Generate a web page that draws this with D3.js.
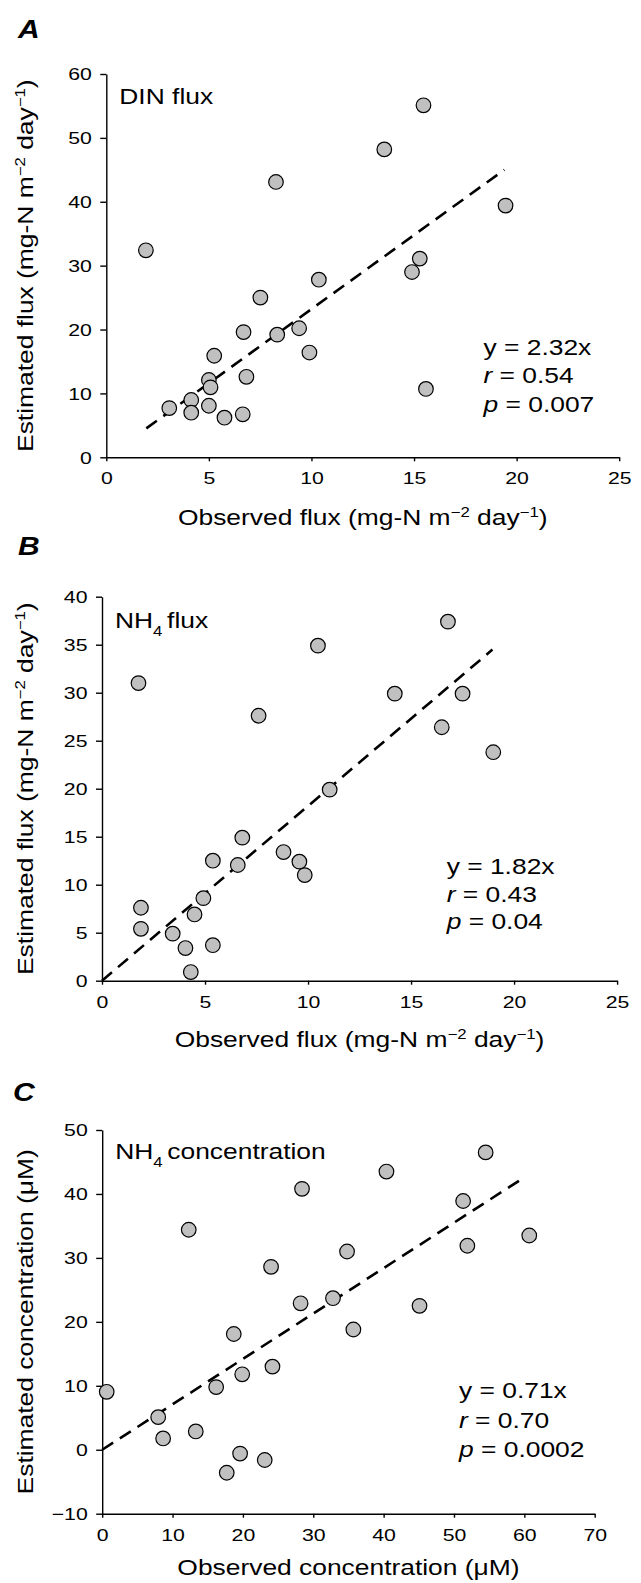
<!DOCTYPE html>
<html><head><meta charset="utf-8">
<script src="https://cdn.jsdelivr.net/npm/d3@7"></script>
<style>html,body{margin:0;padding:0;background:#fff;}svg{display:block;}</style>
</head><body>
<script>
// ---------- DATA ----------
const obsA = [15.46, 13.55, 8.27, 19.46, 1.93, 15.28, 14.9, 10.36, 7.51, 6.69, 8.33, 9.40, 9.90, 5.26, 6.83, 5.0, 5.08, 15.58, 4.14, 3.07, 5.0, 4.14, 5.76, 6.65];
const estA = [55.1, 48.2, 43.1, 39.4, 32.4, 31.1, 29.0, 27.8, 25.0, 19.6, 19.2, 20.2, 16.4, 15.9, 12.6, 12.1, 10.95, 10.7, 8.97, 7.7, 8.07, 6.98, 6.2, 6.73];
const obsB = [16.79, 10.48, 1.77, 14.21, 17.5, 7.6, 16.49, 18.99, 11.05, 6.81, 8.81, 5.38, 6.59, 9.58, 9.84, 4.92, 1.89, 4.49, 1.89, 3.43, 4.05, 5.38, 4.31];
const estB = [37.4, 34.9, 31.0, 29.9, 29.9, 27.6, 26.4, 23.8, 19.9, 14.9, 13.4, 12.5, 12.05, 12.4, 11.0, 8.6, 7.6, 6.9, 5.4, 4.9, 3.4, 3.7, 0.9];
const obsC = [54.5, 40.4, 28.4, 51.3, 12.3, 60.7, 51.9, 34.8, 24.0, 32.8, 28.2, 45.1, 35.7, 18.7, 24.2, 19.9, 16.2, 0.64, 7.96, 8.66, 13.3, 19.6, 23.1, 17.7];
const estC = [46.5, 43.5, 40.8, 38.9, 34.4, 33.5, 31.9, 31.0, 28.6, 23.7, 22.9, 22.5, 18.8, 18.1, 13.0, 11.8, 9.8, 9.06, 5.1, 1.77, 2.86, -0.6, -1.6, -3.6];

const slopes = [2.32, 1.82, 0.71];
const fitRanges = [[1.95, 19.4], [0, 18.95], [0, 60]];
const rValues = ["0.54", "0.43", "0.70"];
const pValues = ["0.007", "0.04", "0.0002"];
const panelLetters = ["A", "B", "C"];
const panelTitles = ["DIN flux", "NH4 flux", "NH4 concentration"];
const xTicksA = [0, 5, 10, 15, 20, 25], yTicksA = [0, 10, 20, 30, 40, 50, 60];
const xTicksB = [0, 5, 10, 15, 20, 25], yTicksB = [0, 5, 10, 15, 20, 25, 30, 35, 40];
const xTicksC = [0, 10, 20, 30, 40, 50, 60, 70], yTicksC = [-10, 0, 10, 20, 30, 40, 50];
const xLabels = ["flux", "flux", "conc"];

// ---------- LAYOUT ----------
const W = 641, H = 1583;
const FONT = "'Liberation Sans', Arial, Helvetica, sans-serif";
const SX = 1.2;   // horizontal glyph stretch seen in the reference
const layouts = [
  {x0: 106.3, x1: 619.2, yT: 74, yB: 457.3, letterX: 18, letterY: 38, titleY: 104, eqX: 483.5, eqY: 355, eqGap: 28.3, xLabY: 525, yLabX: 33},
  {x0: 102, x1: 617.1, yT: 596.7, yB: 980.7, letterX: 18, letterY: 555, titleY: 628.3, eqX: 446.7, eqY: 874, eqGap: 27.7, xLabY: 1047, yLabX: 33},
  {x0: 102.2, x1: 594.7, yT: 1130, yB: 1513.7, letterX: 13, letterY: 1101, titleY: 1159.3, eqX: 459, eqY: 1398.3, eqGap: 29.2, xLabY: 1575, yLabX: 33}
];

const panels = [
  {obs: obsA, est: estA, xd: [0, 25], yd: [0, 60], xt: xTicksA, yt: yTicksA},
  {obs: obsB, est: estB, xd: [0, 25], yd: [0, 40], xt: xTicksB, yt: yTicksB},
  {obs: obsC, est: estC, xd: [0, 70], yd: [-10, 50], xt: xTicksC, yt: yTicksC}
];

const svg = d3.select("body").append("svg").attr("width", W).attr("height", H)
  .style("font-family", FONT);

function stext(parent, x, y, opts, build) {
  const g = parent.append("g").attr("transform",
    `translate(${x},${y})` + (opts.rotate ? " rotate(-90)" : "") + ` scale(${opts.sx || SX},1)`);
  const t = g.append("text").attr("x", 0).attr("y", 0)
    .attr("text-anchor", opts.anchor || "start")
    .attr("font-size", opts.size || 22)
    .attr("fill", "#000");
  if (opts.weight) t.attr("font-weight", opts.weight);
  if (opts.style) t.attr("font-style", opts.style);
  build(t);
  return t;
}
function sup(t, s, size) {
  t.append("tspan").attr("font-size", size || 14).attr("dy", -8).text(s);
  return t;
}
function down(t, s) { t.append("tspan").attr("dy", 8).text(s); }

panels.forEach((p, i) => {
  const L = layouts[i];
  const x = d3.scaleLinear().domain(p.xd).range([L.x0, L.x1]);
  const y = d3.scaleLinear().domain(p.yd).range([L.yB, L.yT]);
  const g = svg.append("g");

  // axes
  const ax = g.append("g").attr("transform", `translate(0,${L.yB})`)
    .call(d3.axisBottom(x).tickValues(p.xt).tickSize(4).tickSizeOuter(0).tickFormat(d3.format("d")));
  const ay = g.append("g").attr("transform", `translate(${L.x0},0)`)
    .call(d3.axisLeft(y).tickValues(p.yt).tickSize(6).tickSizeOuter(0).tickFormat(d => d < 0 ? "\u2212" + Math.abs(d) : d));
  [ax, ay].forEach(a => {
    a.select(".domain").attr("stroke", "#000").attr("stroke-width", 1.4);
    a.selectAll(".tick line").attr("stroke", "#000").attr("stroke-width", 1.4);
    a.selectAll(".tick text").attr("font-size", 17).attr("font-family", FONT).attr("fill", "#000");
  });
  ax.selectAll(".tick text").attr("y", 27).attr("dy", 0).attr("transform", "scale(1.25,1)");
  ay.selectAll(".tick text").attr("x", -14.5 / 1.25).attr("dy", "0.35em").attr("transform", "scale(1.25,1)");

  // fit line
  const fr = fitRanges[i];
  g.append("line")
    .attr("x1", x(fr[0])).attr("y1", y(slopes[i] * fr[0]))
    .attr("x2", x(fr[1])).attr("y2", y(slopes[i] * fr[1]))
    .attr("stroke", "#000").attr("stroke-width", 2.6).attr("stroke-dasharray", "13,8");

  // points
  g.selectAll("circle").data(p.obs.map((o, k) => [o, p.est[k]])).join("circle")
    .attr("cx", d => x(d[0])).attr("cy", d => y(d[1])).attr("r", 7.3)
    .attr("fill", "#c0c0c0").attr("stroke", "#000").attr("stroke-width", 1.2);

  // panel letter
  stext(svg, L.letterX, L.letterY, {size: 25, weight: "bold", style: "italic", sx: 1.2}, t => t.text(panelLetters[i]));

  // title
  stext(svg, L.x0 + 13, L.titleY, {size: 22}, t => {
    const title = panelTitles[i];
    if (title.startsWith("NH4")) {
      t.append("tspan").text("NH");
      t.append("tspan").attr("font-size", 14).attr("dy", 8).text("4 ");
      t.append("tspan").attr("dy", -8).text(title.slice(4));
    } else t.text(title);
  });

  // equation
  stext(svg, L.eqX, L.eqY, {size: 22}, t => t.text(`y = ${slopes[i].toFixed(2)}x`));
  stext(svg, L.eqX, L.eqY + L.eqGap, {size: 22}, t => {
    t.append("tspan").attr("font-style", "italic").text("r");
    t.append("tspan").text(` = ${rValues[i]}`);
  });
  stext(svg, L.eqX, L.eqY + 2 * L.eqGap, {size: 22}, t => {
    t.append("tspan").attr("font-style", "italic").text("p");
    t.append("tspan").text(` = ${pValues[i]}`);
  });

  // x label
  const cx = (L.x0 + L.x1) / 2;
  stext(svg, cx, L.xLabY, {size: 22, anchor: "middle"}, t => {
    if (xLabels[i] === "flux") {
      t.append("tspan").text("Observed flux (mg-N m");
      sup(t, "\u22122");
      down(t, " day");
      sup(t, "\u22121");
      down(t, ")");
    } else t.text("Observed concentration (\u03bcM)");
  });

  // y label
  const cy = (L.yT + L.yB) / 2;
  stext(svg, L.yLabX, cy, {size: 22, anchor: "middle", rotate: true, sx: 1.2}, t => {
    if (xLabels[i] === "flux") {
      t.append("tspan").text("Estimated flux (mg-N m");
      sup(t, "\u22122");
      down(t, " day");
      sup(t, "\u22121");
      down(t, ")");
    } else t.text("Estimated concentration (\u03bcM)");
  });
});
</script>
</body></html>
